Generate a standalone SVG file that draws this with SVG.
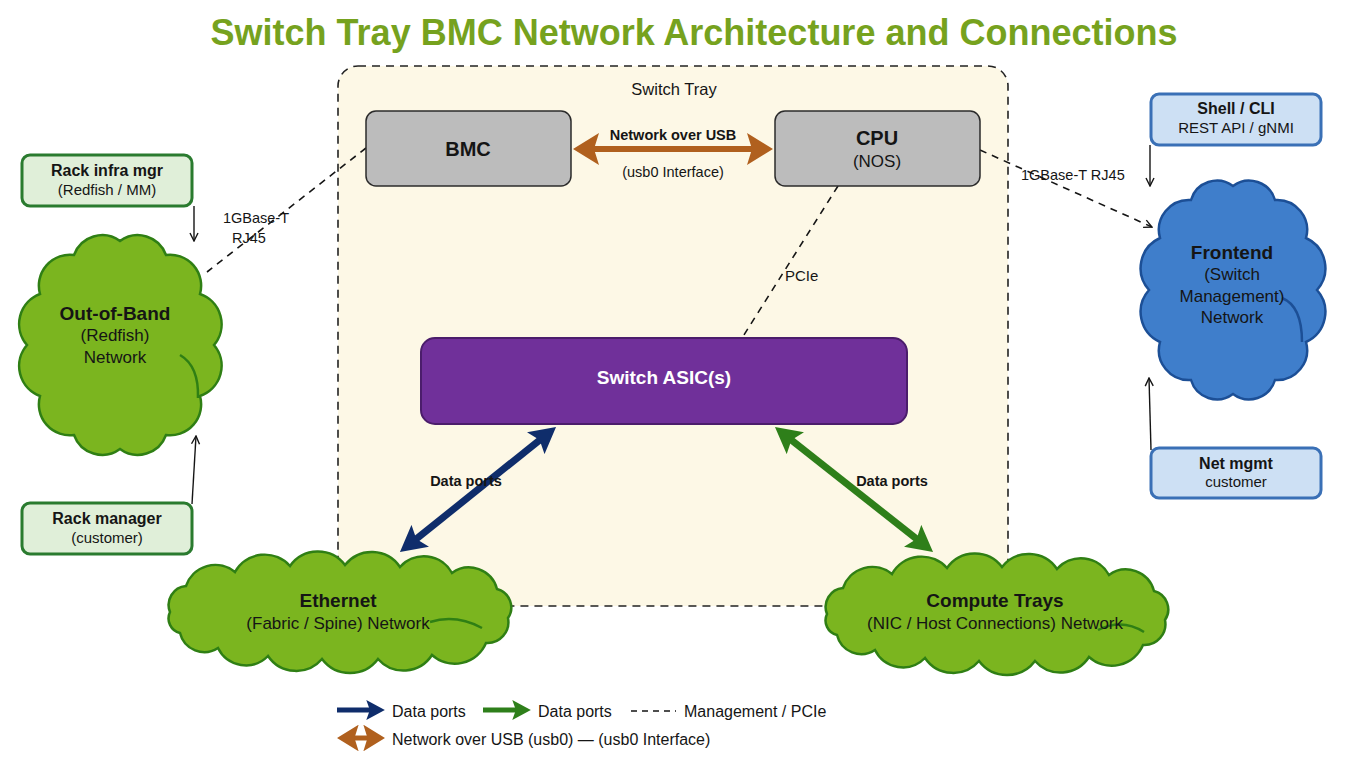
<svg xmlns="http://www.w3.org/2000/svg" width="1345" height="760" viewBox="0 0 1345 760">
  <style>
    text { font-family: "Liberation Sans", Arial, sans-serif; fill: #151515; }
    .ttl { font-size: 36px; font-weight: bold; fill: #76a21e; }
    .c { text-anchor: middle; }
    .bold { font-weight: bold; }
    .dash { fill: none; stroke: #151515; stroke-width: 1.6; stroke-dasharray: 7 6; }
    .thin { fill: none; stroke: #151515; stroke-width: 1.4; }
    .cloudG { fill: #7bb51f; stroke: #2f7f14; stroke-width: 2.5; }
    .cloudB { fill: #3f7ecb; stroke: #1c4f96; stroke-width: 2.5; }
    .fold { fill: none; stroke-width: 2.5; }
    .boxG { fill: #e0efd9; stroke: #2a7b2f; stroke-width: 3; }
    .boxB { fill: #cde0f4; stroke: #3a70b6; stroke-width: 3; }
    .gray { fill: #bcbcbc; stroke: #2b2b2b; stroke-width: 1.5; }
  </style>
  <defs>
    <marker id="hBrown" viewBox="0 0 26 32" refX="8" refY="16" markerWidth="4.333" markerHeight="5.333" markerUnits="strokeWidth" orient="auto-start-reverse">
      <path d="M0,0 L26,16 L0,32 L5,16 Z" fill="#b0601e"/>
    </marker>
    <marker id="hBlue" viewBox="0 0 26 28" refX="8" refY="14" markerWidth="3.714" markerHeight="4" markerUnits="strokeWidth" orient="auto-start-reverse">
      <path d="M0,0 L26,14 L0,28 L5,14 Z" fill="#0f2d6b"/>
    </marker>
    <marker id="hGreen" viewBox="0 0 26 28" refX="8" refY="14" markerWidth="3.714" markerHeight="4" markerUnits="strokeWidth" orient="auto-start-reverse">
      <path d="M0,0 L26,14 L0,28 L5,14 Z" fill="#2e7f1a"/>
    </marker>
    <marker id="hOpen" viewBox="0 0 10 10" refX="9" refY="5" markerWidth="10" markerHeight="10" markerUnits="userSpaceOnUse" orient="auto">
      <path d="M1,1 L9,5 L1,9" fill="none" stroke="#151515" stroke-width="1.4"/>
    </marker>
    <path id="flatCloud" d="M170,612 A19,19 0 0 1 186,586 A31,31 0 0 1 235,572 A34,34 0 0 1 290,566 A34,34 0 0 1 345,565 A34,34 0 0 1 400,567 A32,32 0 0 1 452,573 A29,29 0 0 1 497,589 A19,19 0 0 1 508,618 A21,21 0 0 1 486,643 A34,34 0 0 1 432,655 A34,34 0 0 1 378,659 A35,35 0 0 1 322,659 A34,34 0 0 1 268,656 A31,31 0 0 1 218,648 A25,25 0 0 1 180,633 A15,15 0 0 1 170,612 Z"/>
  </defs>

  <rect width="1345" height="760" fill="#ffffff"/>
  <text class="ttl c" x="694" y="45">Switch Tray BMC Network Architecture and Connections</text>

  <g id="switch-tray">
    <rect x="338" y="66" width="670" height="540" rx="20" fill="#fdf8e6" stroke="#222" stroke-width="1.6" stroke-dasharray="8 6"/>
    <text class="c" x="674" y="95" style="font-size:16.5px">Switch Tray</text>
  </g>

  <g id="connectors">
    <path class="dash" d="M366,148 L207,272"/>
    <path class="dash" d="M980,150 L1152,227" marker-end="url(#hOpen)"/>
    <path class="dash" d="M838,186 L742,338"/>
    <path class="thin" d="M194,206 L194,241" marker-end="url(#hOpen)"/>
    <path class="thin" d="M192,504 L196,436" marker-end="url(#hOpen)"/>
    <path class="thin" d="M1150,145 L1150,186" marker-end="url(#hOpen)"/>
    <path class="thin" d="M1151,450 L1149,378" marker-end="url(#hOpen)"/>
    <path d="M591,149 L755,149" stroke="#b0601e" stroke-width="6" marker-start="url(#hBrown)" marker-end="url(#hBrown)"/>
    <path d="M414,540.8 L542,438.2" stroke="#0f2d6b" stroke-width="7" marker-start="url(#hBlue)" marker-end="url(#hBlue)"/>
    <path d="M789.1,438.2 L918.9,540.8" stroke="#2e7f1a" stroke-width="7" marker-start="url(#hGreen)" marker-end="url(#hGreen)"/>
    <text class="c bold" x="673" y="140" style="font-size:14.5px">Network over USB</text>
    <text class="c" x="673" y="177" style="font-size:14.5px">(usb0 Interface)</text>
    <text x="785" y="281" style="font-size:15px">PCIe</text>
    <text class="c" x="256" y="223" style="font-size:14.5px">1GBase-T</text>
    <text class="c" x="249" y="243" style="font-size:14.5px">RJ45</text>
    <text x="1021" y="180" style="font-size:14.5px">1GBase-T RJ45</text>
    <text class="c bold" x="466" y="486" style="font-size:14.5px">Data ports</text>
    <text class="c bold" x="892" y="486" style="font-size:14.5px">Data ports</text>
  </g>

  <g id="bmc">
    <rect class="gray" x="366" y="111" width="205" height="75" rx="10"/>
    <text class="c bold" x="468" y="156" style="font-size:20px">BMC</text>
  </g>

  <g id="cpu">
    <rect class="gray" x="775" y="111" width="205" height="75" rx="10"/>
    <text class="c bold" x="877" y="145" style="font-size:20px">CPU</text>
    <text class="c" x="877" y="167" style="font-size:17px">(NOS)</text>
  </g>

  <g id="switch-asic">
    <rect x="421" y="338" width="486" height="86" rx="14" fill="#70309a" stroke="#4b1d6b" stroke-width="2"/>
    <text class="c bold" x="664" y="384" style="font-size:19px; fill:#ffffff">Switch ASIC(s)</text>
  </g>

  <g id="out-of-band">
    <path class="cloudG" d="M214,345 A32,32 0 0 1 200,396 A31,31 0 0 1 166,435 A30,30 0 0 1 120,449 A30,30 0 0 1 74,435 A31,31 0 0 1 40,396 A32,32 0 0 1 27,345 A32,32 0 0 1 40,294 A31,31 0 0 1 74,255 A30,30 0 0 1 120,241 A30,30 0 0 1 166,255 A31,31 0 0 1 200,294 A32,32 0 0 1 214,345 Z"/>
    <path class="fold" stroke="#2f7f14" d="M180,355 Q199,366 198,398"/>
    <text class="c bold" x="115" y="320" style="font-size:19px">Out-of-Band</text>
    <text class="c" x="115" y="341" style="font-size:17px">(Redfish)</text>
    <text class="c" x="115" y="363" style="font-size:17px">Network</text>
  </g>

  <g id="rack-infra-mgr">
    <rect class="boxG" x="22" y="155" width="170" height="51" rx="8"/>
    <text class="c bold" x="107" y="176" style="font-size:16px">Rack infra mgr</text>
    <text class="c" x="107" y="195" style="font-size:15px">(Redfish / MM)</text>
  </g>

  <g id="rack-manager">
    <rect class="boxG" x="22" y="503" width="170" height="51" rx="8"/>
    <text class="c bold" x="107" y="524" style="font-size:16px">Rack manager</text>
    <text class="c" x="107" y="543" style="font-size:15px">(customer)</text>
  </g>

  <g id="frontend">
    <path class="cloudB" d="M1317,290 A33,33 0 0 1 1306,342 A30,30 0 0 1 1275,380 A27,27 0 0 1 1233,394 A27,27 0 0 1 1191,380 A30,30 0 0 1 1160,342 A33,33 0 0 1 1149,290 A33,33 0 0 1 1160,238 A30,30 0 0 1 1191,200 A27,27 0 0 1 1233,186 A27,27 0 0 1 1275,200 A30,30 0 0 1 1306,238 A33,33 0 0 1 1317,290 Z"/>
    <path class="fold" stroke="#1c4f96" d="M1282,298 Q1302,306 1302,342"/>
    <text class="c bold" x="1232" y="259" style="font-size:19px">Frontend</text>
    <text class="c" x="1232" y="280" style="font-size:17px">(Switch</text>
    <text class="c" x="1232" y="302" style="font-size:17px">Management)</text>
    <text class="c" x="1232" y="323" style="font-size:17px">Network</text>
  </g>

  <g id="shell-cli">
    <rect class="boxB" x="1151" y="94" width="170" height="51" rx="8"/>
    <text class="c bold" x="1236" y="114" style="font-size:16px">Shell / CLI</text>
    <text class="c" x="1236" y="133" style="font-size:15px">REST API / gNMI</text>
  </g>

  <g id="net-mgmt">
    <rect class="boxB" x="1151" y="448" width="170" height="50" rx="8"/>
    <text class="c bold" x="1236" y="469" style="font-size:16px">Net mgmt</text>
    <text class="c" x="1236" y="487" style="font-size:15px">customer</text>
  </g>

  <g id="ethernet">
    <use href="#flatCloud" class="cloudG"/>
    <path class="fold" stroke="#2f7f14" d="M430,622 Q456,614 482,628"/>
    <text class="c bold" x="338" y="607" style="font-size:19px">Ethernet</text>
    <text class="c" x="338" y="629" style="font-size:17px">(Fabric / Spine) Network</text>
  </g>

  <g id="compute-trays">
    <use href="#flatCloud" class="cloudG" transform="translate(657,2)"/>
    <path class="fold" stroke="#2f7f14" d="M1098,630 Q1122,618 1144,632"/>
    <text class="c bold" x="995" y="607" style="font-size:19px">Compute Trays</text>
    <text class="c" x="995" y="629" style="font-size:17px">(NIC / Host Connections) Network</text>
  </g>

  <g id="legend">
    <path d="M337,710 L372,710" stroke="#0f2d6b" stroke-width="5" marker-end="url(#hBlue)"/>
    <text x="392" y="717" style="font-size:16px">Data ports</text>
    <path d="M483,710 L518,710" stroke="#2e7f1a" stroke-width="5" marker-end="url(#hGreen)"/>
    <text x="538" y="717" style="font-size:16px">Data ports</text>
    <path d="M631,711 L676,711" fill="none" stroke="#151515" stroke-width="1.6" stroke-dasharray="6 5"/>
    <text x="684" y="717" style="font-size:16px">Management / PCIe</text>
    <path d="M352,738 L370,738" stroke="#b0601e" stroke-width="5" marker-start="url(#hBrown)" marker-end="url(#hBrown)"/>
    <text x="392" y="745" style="font-size:16px">Network over USB (usb0) — (usb0 Interface)</text>
  </g>
</svg>
